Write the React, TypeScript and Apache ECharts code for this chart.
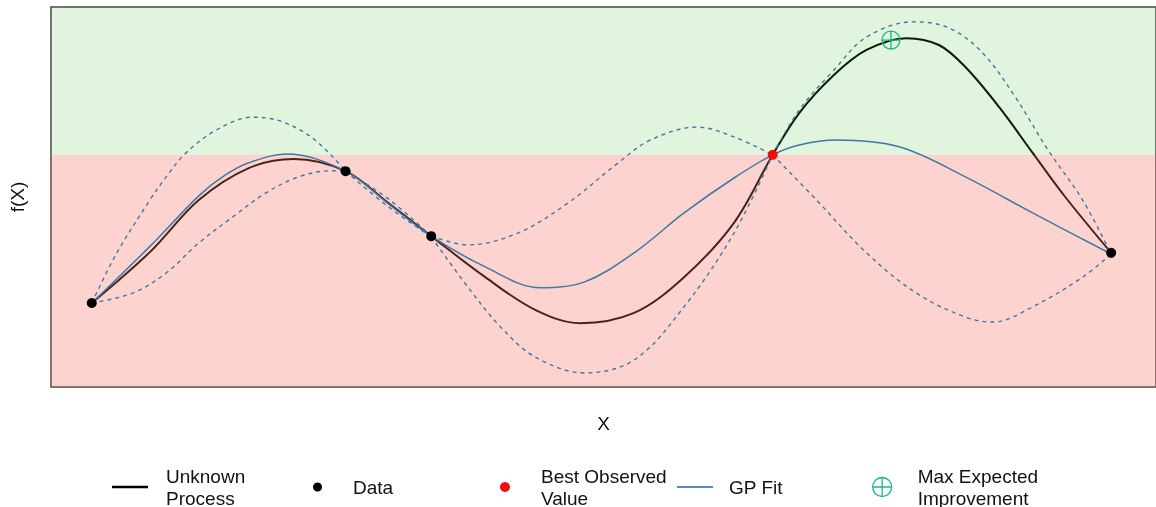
import React, { useEffect, useRef } from "react";
import * as echarts from "echarts";

// Observations
const dataX = [0, 0.249, 0.333, 1.0];
const dataY = [0.221, 0.568, 0.397, 0.353];
const bestX = 0.668;
const bestY = 0.611;
const eiX = 0.784;
const eiY = 0.913;
const knotsX = [0, 0.249, 0.333, 0.668, 1.0];

// Unknown process (true function)
const truthX = [0, 0.057, 0.105, 0.154, 0.198, 0.249, 0.291, 0.333, 0.386, 0.435, 0.479, 0.532, 0.581, 0.63, 0.668, 0.694, 0.728, 0.76, 0.799, 0.831, 0.857, 0.89, 0.923, 0.955, 1.0];
const truthY = [0.221, 0.355, 0.492, 0.576, 0.6, 0.568, 0.484, 0.397, 0.289, 0.203, 0.168, 0.195, 0.289, 0.432, 0.611, 0.721, 0.821, 0.887, 0.918, 0.9, 0.842, 0.737, 0.616, 0.5, 0.353];

// GP mean
const gpX = [0, 0.057, 0.105, 0.13, 0.154, 0.191, 0.249, 0.291, 0.333, 0.386, 0.44, 0.483, 0.532, 0.581, 0.63, 0.668, 0.694, 0.73, 0.792, 0.857, 0.923, 1.0];
const gpY = [0.221, 0.37, 0.503, 0.556, 0.59, 0.613, 0.568, 0.482, 0.397, 0.316, 0.261, 0.276, 0.353, 0.458, 0.55, 0.611, 0.637, 0.65, 0.632, 0.553, 0.458, 0.35];

// GP upper / lower bands
const upperX = [0, 0.024, 0.057, 0.073, 0.092, 0.122, 0.158, 0.187, 0.219, 0.249, 0.291, 0.333, 0.369, 0.418, 0.467, 0.516, 0.548, 0.594, 0.63, 0.668, 0.694, 0.728, 0.76, 0.806, 0.841, 0.874, 0.906, 0.938, 0.972, 1.0];
const upperY = [0.221, 0.35, 0.492, 0.553, 0.615, 0.676, 0.71, 0.698, 0.65, 0.568, 0.495, 0.397, 0.374, 0.405, 0.484, 0.589, 0.65, 0.684, 0.658, 0.611, 0.729, 0.834, 0.921, 0.961, 0.945, 0.879, 0.763, 0.624, 0.492, 0.35];
const lowerX = [0, 0.04, 0.073, 0.105, 0.138, 0.171, 0.203, 0.235, 0.249, 0.291, 0.333, 0.369, 0.401, 0.435, 0.483, 0.532, 0.581, 0.63, 0.668, 0.711, 0.76, 0.809, 0.857, 0.884, 0.923, 0.972, 1.0];
const lowerY = [0.221, 0.247, 0.3, 0.379, 0.447, 0.511, 0.553, 0.569, 0.568, 0.474, 0.395, 0.263, 0.158, 0.079, 0.037, 0.071, 0.211, 0.405, 0.611, 0.492, 0.353, 0.247, 0.184, 0.171, 0.211, 0.289, 0.35];

const zip = (xs: number[], ys: number[]) => xs.map((x, i) => [x, ys[i]]);

// split band at observation knots (zero variance -> kinks)
const segmented = (xs: number[], ys: number[]) => {
  const out: any[] = [];
  xs.forEach((x, i) => {
    out.push([x, ys[i]]);
    const inner = i > 0 && i < xs.length - 1 && knotsX.some((k) => Math.abs(k - x) < 1e-9);
    if (inner) {
      out.push([x, "-"]);
      out.push([x, ys[i]]);
    }
  });
  return out;
};

const BLUE = "#3F79A6";
const GREEN_EI = "#1FB58A";
const EI_PATH = "path://M10,0A10,10,0,1,1,-10,0A10,10,0,1,1,10,0ZM-10,0L10,0M0,-10L0,10";
const FONT = "Liberation Sans, Arial, Helvetica, sans-serif";
const SMOOTH = 0.35;

export default function App() {
  const ref = useRef<HTMLDivElement>(null);
  useEffect(() => {
    if (!ref.current) return;
    const chart = echarts.init(ref.current, undefined, { renderer: "svg" });
    const legendText = { fontSize: 19, lineHeight: 22, color: "#111", fontFamily: FONT };
    chart.setOption({
      animation: false,
      textStyle: { fontFamily: FONT },
      grid: { left: 51, right: -5, top: 7, bottom: 120, show: true, borderColor: "#444", borderWidth: 1.5, backgroundColor: "transparent" },
      xAxis: {
        type: "value", min: -0.04, max: 1.044,
        name: "X", nameLocation: "middle", nameGap: 27,
        nameTextStyle: { fontSize: 19, color: "#111" },
        axisLine: { show: false }, axisTick: { show: false }, axisLabel: { show: false }, splitLine: { show: false },
      },
      yAxis: {
        type: "value", min: 0, max: 1,
        name: "f(X)", nameLocation: "middle", nameGap: 24, nameRotate: 90,
        nameTextStyle: { fontSize: 19, color: "#111" },
        axisLine: { show: false }, axisTick: { show: false }, axisLabel: { show: false }, splitLine: { show: false },
      },
      legend: [
        { data: [{ name: "Unknown\nProcess", icon: "rect", itemStyle: { color: "#000" } }], left: 112, top: 465, padding: 0, itemWidth: 36, itemHeight: 2.5, textStyle: { ...legendText, padding: [0, 0, 0, 13] }, selectedMode: false },
        { data: [{ name: "Data", icon: "circle", itemStyle: { color: "#000", opacity: 1 } }], left: 313, top: 476, padding: 0, itemWidth: 9, itemHeight: 9, textStyle: { ...legendText, padding: [0, 0, 0, 26] }, selectedMode: false },
        { data: [{ name: "Best Observed\nValue", icon: "circle", itemStyle: { color: "#F20D0D", opacity: 1 } }], left: 500, top: 465, padding: 0, itemWidth: 10, itemHeight: 10, textStyle: { ...legendText, padding: [0, 0, 0, 26] }, selectedMode: false },
        { data: [{ name: "GP Fit", icon: "rect", itemStyle: { color: "#2166AC" } }], left: 677, top: 476, padding: 0, itemWidth: 36, itemHeight: 1.5, textStyle: { ...legendText, padding: [0, 0, 0, 11] }, selectedMode: false },
        { data: [{ name: "Max Expected\nImprovement", icon: EI_PATH, itemStyle: { color: "rgba(0,0,0,0)", borderColor: GREEN_EI, borderWidth: 1.3, opacity: 1 } }], left: 872, top: 465, padding: 0, itemWidth: 19, itemHeight: 19, textStyle: { ...legendText, padding: [0, 0, 0, 21] }, selectedMode: false },
      ],
      series: [
        {
          name: "Unknown\nProcess", type: "line", data: zip(truthX, truthY), smooth: SMOOTH, showSymbol: false, symbol: "none",
          lineStyle: { color: "#000", width: 2 }, itemStyle: { color: "#000" }, z: 2,
        },
        {
          name: "regions", type: "line", data: [], z: 3,
          markArea: {
            silent: true, z: 3,
            data: [
              [{ yAxis: 0, itemStyle: { color: "rgba(245,110,95,0.3)" } }, { yAxis: bestY }],
              [{ yAxis: bestY, itemStyle: { color: "rgba(55,188,35,0.15)" } }, { yAxis: 1 }],
            ],
          },
        },
        {
          name: "GP Fit", type: "line", data: zip(gpX, gpY), smooth: SMOOTH, showSymbol: false, symbol: "none",
          lineStyle: { color: BLUE, width: 1.5 }, itemStyle: { color: BLUE }, z: 4,
        },
        {
          name: "upper", type: "line", data: segmented(upperX, upperY), smooth: SMOOTH, showSymbol: false, symbol: "none", connectNulls: false,
          lineStyle: { color: BLUE, width: 1.4, type: [4, 4] }, z: 4,
        },
        {
          name: "lower", type: "line", data: segmented(lowerX, lowerY), smooth: SMOOTH, showSymbol: false, symbol: "none", connectNulls: false,
          lineStyle: { color: BLUE, width: 1.4, type: [4, 4] }, z: 4,
        },
        {
          name: "Data", type: "scatter", data: zip(dataX, dataY), symbol: "circle", symbolSize: 10,
          itemStyle: { color: "#000", opacity: 1 }, z: 5,
        },
        {
          name: "Best Observed\nValue", type: "scatter", data: [[bestX, bestY]], symbol: "circle", symbolSize: 10,
          itemStyle: { color: "#F20D0D", opacity: 1 }, z: 6,
        },
        {
          name: "Max Expected\nImprovement", type: "scatter", data: [[eiX, eiY]], symbol: EI_PATH, symbolSize: 18,
          itemStyle: { color: "rgba(0,0,0,0)", borderColor: GREEN_EI, borderWidth: 1.3, opacity: 1 }, z: 6,
        },
      ],
    });
    return () => chart.dispose();
  }, []);
  return <div ref={ref} style={{ position: "fixed", left: 0, top: 0, width: 1156, height: 507 }} />;
}
